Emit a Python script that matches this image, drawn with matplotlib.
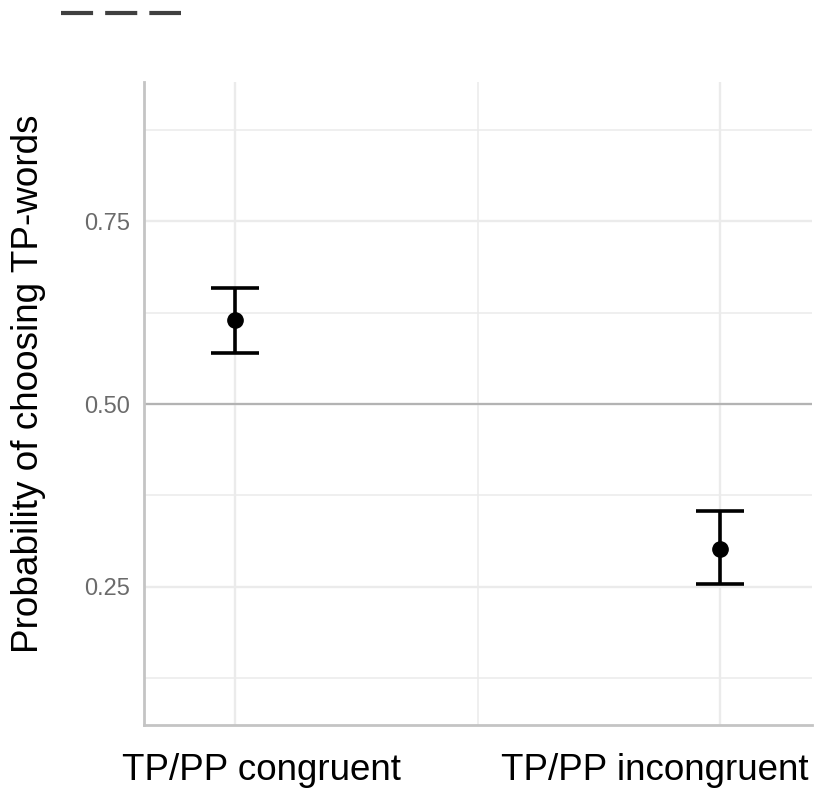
import matplotlib
matplotlib.use("Agg")
import matplotlib.pyplot as plt
from matplotlib.lines import Line2D
from matplotlib.ticker import FixedLocator
from matplotlib.transforms import ScaledTranslation

categories = ["TP/PP congruent", "TP/PP incongruent"]
means = [0.615, 0.302]
lower = [0.570, 0.254]
upper = [0.658, 0.354]
y_ticks = [0.25, 0.50, 0.75]
y_tick_labels = ["0.25", "0.50", "0.75"]
y_minor = [0.125, 0.375, 0.625, 0.875]
chance = 0.5

plt.rcParams['font.family'] = ['Liberation Sans', 'DejaVu Sans']

fig = plt.figure(figsize=(8.21, 7.88), dpi=100)
ax = fig.add_axes([0.1754, 0.080, 0.989 - 0.1754, 0.896 - 0.080])

x = list(range(1, len(categories) + 1))
ax.set_xlim(0.812, 2.19)
ax.set_ylim(0.0615, 0.94)

# grid
ax.set_axisbelow(True)
ax.yaxis.set_major_locator(FixedLocator(y_ticks))
ax.yaxis.set_minor_locator(FixedLocator(y_minor))
ax.xaxis.set_major_locator(FixedLocator(x))
ax.xaxis.set_minor_locator(FixedLocator([1.5]))
ax.grid(which='major', color='#ebebeb', lw=1.7)
ax.grid(which='minor', color='#ebebeb', lw=1.1)

ax.axhline(chance, color='#b3b3b3', lw=1.6, zorder=1.5)

yerr = [[m - l for m, l in zip(means, lower)], [u - m for m, u in zip(means, upper)]]
ax.errorbar(x, means, yerr=yerr, fmt='o', color='black', ms=11, elinewidth=2.6,
            capsize=17.6, capthick=2.6, zorder=3)

ax.set_yticks(y_ticks)
ax.set_yticklabels(y_tick_labels)
ax.set_xticks(x)
ax.set_xticklabels([])
ax.tick_params(axis='y', which='both', length=0, labelsize=17, labelcolor='#6b6b6b', pad=10)
ax.tick_params(axis='x', which='both', length=0)

# category labels (placed as in the reference, slightly shifted from the ticks)
label_shift_pt = [19, -47]
for xi, cat, sh in zip(x, categories, label_shift_pt):
    tr = ax.get_xaxis_transform() + ScaledTranslation(sh / 72, -20 / 72, fig.dpi_scale_trans)
    ax.text(xi, 0, cat, transform=tr, ha='center', va='top', fontsize=26.5, color='black')

ax.set_ylabel("Probability of choosing TP-words", fontsize=26.6)
ax.yaxis.set_label_coords(-0.146, 0.531)

for s in ['top', 'right']:
    ax.spines[s].set_visible(False)
for s in ['left', 'bottom']:
    ax.spines[s].set_color('#c4c4c4')
    ax.spines[s].set_linewidth(2.0)

# dashed key at the top left
fig.add_artist(Line2D([61 / 821, 181 / 821], [1 - 13 / 788, 1 - 13 / 788],
                      transform=fig.transFigure, color='#404040', lw=3,
                      linestyle=(0, (7.7, 2.9)), solid_capstyle='butt',
                      dash_capstyle='butt'))

fig.savefig("out.png", dpi=100)
